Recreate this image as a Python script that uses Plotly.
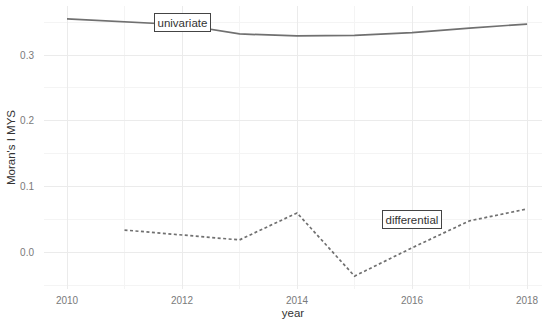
import plotly.graph_objects as go

years = [2010, 2011, 2012, 2013, 2014, 2015, 2016, 2017, 2018]
univariate = [0.355, 0.350, 0.346, 0.332, 0.329, 0.330, 0.334, 0.341, 0.347]
diff_years = [2011, 2012, 2013, 2014, 2015, 2016, 2017, 2018]
differential = [0.034, 0.026, 0.019, 0.060, -0.036, 0.007, 0.048, 0.066]

label_text = ["univariate", "differential"]
label_x = [2012, 2016]
label_y = [0.350, 0.050]

fig = go.Figure()
fig.add_trace(go.Scatter(x=years, y=univariate, mode="lines",
                         line=dict(color="#707070", width=1.7), showlegend=False))
fig.add_trace(go.Scatter(x=diff_years, y=differential, mode="lines",
                         line=dict(color="#707070", width=1.7, dash="3px,2.5px"), showlegend=False))

for t, x, y in zip(label_text, label_x, label_y):
    fig.add_annotation(x=x, y=y, text=t, showarrow=False,
                       font=dict(family="Liberation Sans", size=11.5, color="#333333"),
                       bgcolor="white", bordercolor="#444444", borderwidth=1, borderpad=2.5)

fig.update_layout(
    width=542, height=320,
    margin=dict(l=44, r=0, t=6, b=31),
    plot_bgcolor="white", paper_bgcolor="white",
    font=dict(family="Liberation Sans", color="#333333"),
    xaxis=dict(range=[2009.6, 2018.26], tickvals=[2010, 2012, 2014, 2016, 2018],
               showgrid=True, gridcolor="#ebebeb", gridwidth=1, zeroline=False,
               minor=dict(tickvals=[2011, 2013, 2015, 2017], showgrid=True, gridcolor="#f4f4f4", gridwidth=1),
               tickfont=dict(size=10, color="#7a7a7a"), ticks="", ticklen=0, ticklabelstandoff=4,
               title=dict(text="year", font=dict(size=11.5, color="#333333"), standoff=3)),
    yaxis=dict(range=[-0.0556, 0.3745], tickvals=[0.0, 0.1, 0.2, 0.3],
               ticktext=["0.0", "0.1", "0.2", "0.3"],
               showgrid=True, gridcolor="#ebebeb", gridwidth=1, zeroline=False,
               minor=dict(tickvals=[-0.05, 0.05, 0.15, 0.25, 0.35], showgrid=True, gridcolor="#f4f4f4", gridwidth=1),
               tickfont=dict(size=10, color="#7a7a7a"), ticks="", ticklen=0, ticklabelstandoff=9,
               title=dict(text="Moran's I MYS", font=dict(size=11.5, color="#333333"), standoff=2)),
)

fig.write_html("out.html")
